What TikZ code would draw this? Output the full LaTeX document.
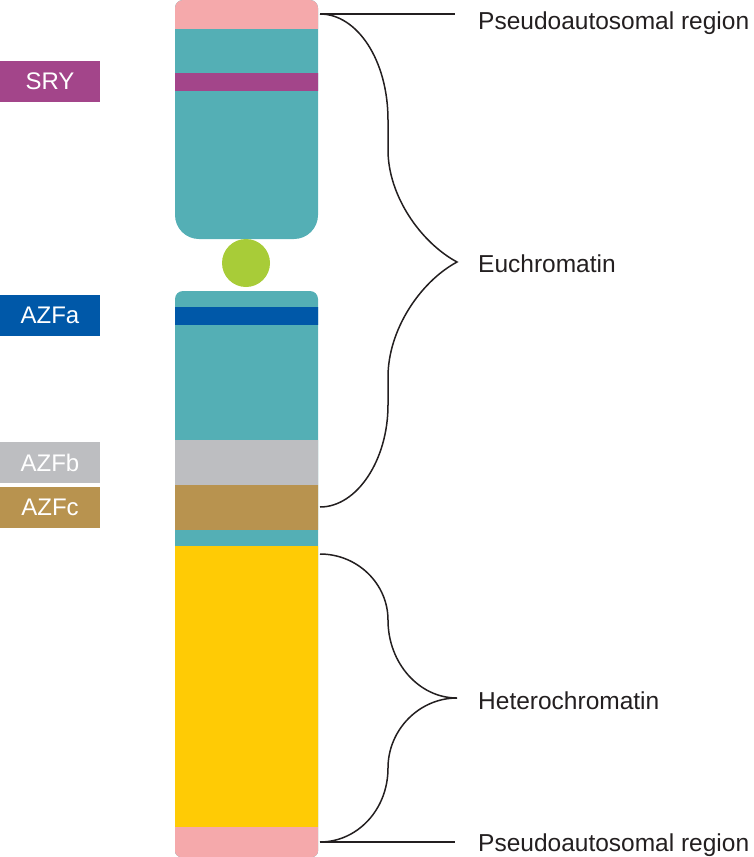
\documentclass[tikz,border=0pt]{standalone}
\usepackage{fontspec}
\setmainfont{Liberation Sans}
\definecolor{pinkc}{HTML}{F5A9AB}
\definecolor{tealc}{HTML}{54AFB5}
\definecolor{sryc}{HTML}{A3458A}
\definecolor{greenc}{HTML}{A8CC38}
\definecolor{bluec}{HTML}{0058A8}
\definecolor{grayc}{HTML}{BDBEC1}
\definecolor{brownc}{HTML}{B8934F}
\definecolor{yellowc}{HTML}{FFCB05}
\definecolor{txt}{HTML}{231F20}
\begin{document}
\begin{tikzpicture}[x=1pt,y=-1pt,
  lab/.style={minimum width=100pt, minimum height=41pt, inner sep=0pt, text=white, font=\fontsize{24}{28}\selectfont},
  rlab/.style={anchor=base west, inner sep=0pt, text=txt, font=\fontsize{24.5}{29}\selectfont},
  brace/.style={draw=txt, line width=1.5pt}]
\useasboundingbox (0,0) rectangle (753,857);
% top arm
\begin{scope}
\clip (175,120) [rounded corners=8] -- (175,0) -- (318,0) -- (318,120) [rounded corners=24] -- (318,239) -- (175,239) -- (175,120) -- cycle;
\fill[tealc] (170,-1) rectangle (320,240);
\fill[pinkc] (170,-1) rectangle (320,29);
\fill[sryc] (170,73.3) rectangle (320,90.7);
\end{scope}
% centromere
\fill[greenc] (246,263) circle[radius=24];
% bottom arm
\begin{scope}
\clip (175,500) [rounded corners=8] -- (175,291) -- (318,291) -- (318,500) [rounded corners=6] -- (318,857) -- (175,857) -- (175,500) -- cycle;
\fill[tealc] (170,290) rectangle (320,858);
\fill[bluec] (170,306.5) rectangle (320,324.5);
\fill[grayc] (170,440) rectangle (320,485);
\fill[brownc] (170,485) rectangle (320,530);
\fill[yellowc] (170,545.5) rectangle (320,827);
\fill[pinkc] (170,827) rectangle (320,858);
\end{scope}
% left labels
\node[lab, fill=sryc] (sry) at (50,81.5) {SRY};
\node[lab, fill=bluec] (azfa) at (50,315) {AZFa};
\node[lab, fill=grayc] (azfb) at (50,462.5) {AZFb};
\node[lab, fill=brownc] (azfc) at (50,507.5) {AZFc};
% right labels
\node[rlab] (pa1) at (478,29) {Pseudoautosomal region};
\node[rlab] (eu) at (478,272) {Euchromatin};
\node[rlab] (he) at (478,709) {Heterochromatin};
\node[rlab] (pa2) at (478,851) {Pseudoautosomal region};
% connector points
\coordinate (a1) at (320,14);
\coordinate (a1e) at (455,14);
\coordinate (eut) at (457,262);
\coordinate (eue) at (320,507);
\coordinate (hs) at (320,554);
\coordinate (het) at (457,698);
\coordinate (he2) at (320,842);
\coordinate (pe2) at (455,842);
% connectors
\draw[brace] (a1) -- (a1e);
\draw[brace] (a1) .. controls (357,14) and (388,60) .. (388,120) -- (388,150)
  .. controls (388,195) and (420,242) .. (eut)
  .. controls (420,282) and (388,330) .. (388,377) -- (388,405)
  .. controls (388,460) and (357,507) .. (eue);
\draw[brace] (hs) .. controls (357.4,554) and (388,583.7) .. (388,620)
  .. controls (388,663) and (419,698) .. (het)
  .. controls (419,698) and (388,730) .. (388,768)
  .. controls (388,810) and (357,842) .. (he2);
\draw[brace] (he2) -- (pe2);
\end{tikzpicture}
\end{document}
